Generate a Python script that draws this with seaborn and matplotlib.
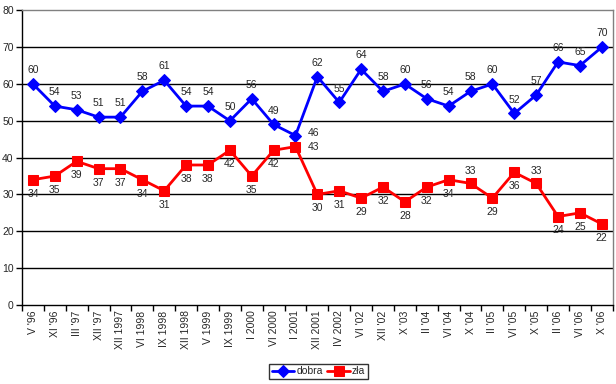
import matplotlib
matplotlib.use("Agg")
import matplotlib.pyplot as plt
import seaborn as sns
import numpy as np
import pandas as pd

# survey rounds
labels = ["V '96", "XI '96", "III '97", "XII '97", "XII 1997", "VI 1998", "IX 1998",
          "XII 1998", "V 1999", "IX 1999", "I 2000", "VI 2000", "I 2001", "XII 2001",
          "IV 2002", "VI '02", "XII '02", "X '03", "II '04", "VI '04", "X '04",
          "II '05", "VI '05", "X '05", "II '06", "VI '06", "X '06"]
dobra = [60, 54, 53, 51, 51, 58, 61, 54, 54, 50, 56, 49, 46, 62, 55, 64, 58, 60,
         56, 54, 58, 60, 52, 57, 66, 65, 70]
zla = [34, 35, 39, 37, 37, 34, 31, 38, 38, 42, 35, 42, 43, 30, 31, 29, 32, 28,
       32, 34, 33, 29, 36, 33, 24, 25, 22]

sns.set_theme(style="white")
plt.rcParams['font.family'] = ['Liberation Sans', 'DejaVu Sans']

df = pd.DataFrame({"x": np.arange(len(labels)), "dobra": dobra, "zła": zla})

fig = plt.figure(figsize=(6.16, 3.84), dpi=100)
ax = fig.add_axes([0.0357, 0.206, 0.959, 0.767])

sns.lineplot(data=df, x="x", y="dobra", ax=ax, color="#0000FF", marker="D",
             markersize=6, markeredgecolor="#0000FF", linewidth=2, label="dobra")
sns.lineplot(data=df, x="x", y="zła", ax=ax, color="#FF0000", marker="s",
             markersize=7, markeredgecolor="#FF0000", linewidth=2, label="zła")

# data labels
for i, v in enumerate(dobra):
    if i == 12:
        ax.annotate(str(v), (i, v), xytext=(9, 2), textcoords="offset points",
                    ha="left", va="center", fontsize=7.5)
    else:
        ax.annotate(str(v), (i, v), xytext=(0, 10), textcoords="offset points",
                    ha="center", va="center", fontsize=7.5)
for i, v in enumerate(zla):
    if i == 12:
        ax.annotate(str(v), (i, v), xytext=(9, 0), textcoords="offset points",
                    ha="left", va="center", fontsize=7.5)
    elif i in (20, 23):
        ax.annotate(str(v), (i, v), xytext=(0, 9), textcoords="offset points",
                    ha="center", va="center", fontsize=7.5)
    else:
        ax.annotate(str(v), (i, v), xytext=(0, -10), textcoords="offset points",
                    ha="center", va="center", fontsize=7.5)

ax.set_xlim(-0.5, len(labels) - 0.5)
ax.set_ylim(0, 80)
ax.set_yticks(range(0, 81, 10))
ax.set_xticks(np.arange(len(labels)))
ax.set_xticklabels(labels, rotation=90, fontsize=7.5)
ax.set_xticks(np.arange(-0.5, len(labels), 1), minor=True)
ax.tick_params(axis="x", which="major", length=0, pad=4)
ax.tick_params(axis="x", which="minor", length=4, width=1, color="black", direction="out", bottom=True)
ax.tick_params(axis="y", length=4, width=1, color="black", direction="out", left=True, labelsize=7.5, pad=2)
ax.set_xlabel("")
ax.set_ylabel("")

for y in range(10, 80, 10):
    ax.axhline(y, color="black", linewidth=1, zorder=0)

ax.spines["left"].set_color("black")
ax.spines["bottom"].set_color("black")
ax.spines["top"].set_color("#808080")
ax.spines["right"].set_color("#808080")
for s in ax.spines.values():
    s.set_linewidth(1)

leg = ax.legend(loc="center", bbox_to_anchor=(0.517, 0.033), bbox_transform=fig.transFigure,
                ncol=2, fontsize=7.5, frameon=True, fancybox=False, edgecolor="black",
                handlelength=2.2, handletextpad=0.2, columnspacing=0.4, borderpad=0.25,
                borderaxespad=0)
leg.get_frame().set_linewidth(1)

fig.savefig("out.png", dpi=100)
